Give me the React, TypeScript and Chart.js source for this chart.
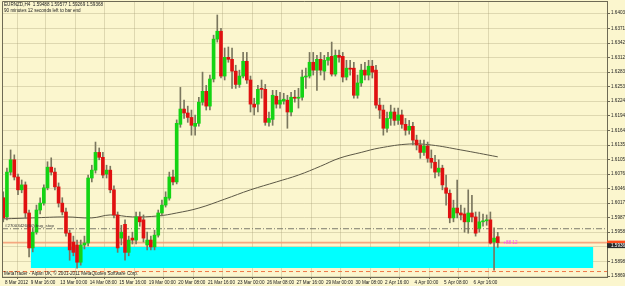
import React, { useEffect, useRef } from 'react';
import { Chart, registerables } from 'chart.js';

Chart.register(...registerables);

// ---- Data (EURNZD, H4) ----
const OPEN = [
  1.6028, 1.5989, 1.6080, 1.6105, 1.6070, 1.6044, 1.6054, 1.5997, 1.5926, 1.5958,
  1.6003, 1.6017, 1.6048, 1.6090, 1.6080, 1.6050, 1.6017, 1.5999, 1.5956, 1.5938,
  1.5932, 1.5897, 1.5932, 1.5936, 1.6068, 1.6084, 1.6120, 1.6110, 1.6076, 1.6084,
  1.6044, 1.5993, 1.5946, 1.5974, 1.5917, 1.5946, 1.5942, 1.5989, 1.5983, 1.5932,
  1.5942, 1.5928, 1.5952, 1.5997, 1.6013, 1.6027, 1.6070, 1.6060, 1.6177, 1.6208,
  1.6200, 1.6191, 1.6173, 1.6179, 1.6222, 1.6244, 1.6214, 1.6269, 1.6350, 1.6366,
  1.6275, 1.6313, 1.6309, 1.6285, 1.6258, 1.6275, 1.6305, 1.6267, 1.6218, 1.6218,
  1.6250, 1.6248, 1.6181, 1.6187, 1.6234, 1.6218, 1.6224, 1.6226, 1.6202, 1.6232,
  1.6230, 1.6232, 1.6273, 1.6275, 1.6303, 1.6287, 1.6309, 1.6285, 1.6307, 1.6315,
  1.6279, 1.6317, 1.6315, 1.6273, 1.6291, 1.6291, 1.6236, 1.6261, 1.6287, 1.6277,
  1.6295, 1.6287, 1.6216, 1.6206, 1.6169, 1.6189, 1.6202, 1.6185, 1.6196, 1.6177,
  1.6165, 1.6173, 1.6145, 1.6135, 1.6120, 1.6133, 1.6108, 1.6100, 1.6080, 1.6088,
  1.6048, 1.6037, 1.5987, 1.6007, 1.5997, 1.5995, 1.5979, 1.5997, 1.5989, 1.5966,
  1.5979, 1.5981, 1.5983, 1.5938, 1.59488,
];
const HIGH = [
  1.6040, 1.6088, 1.6125, 1.6115, 1.6076, 1.6064, 1.6060, 1.6003, 1.5967, 1.6013,
  1.6028, 1.6054, 1.6101, 1.6109, 1.6088, 1.6058, 1.6028, 1.6007, 1.5962, 1.5950,
  1.5942, 1.5942, 1.5950, 1.6074, 1.6094, 1.6141, 1.6129, 1.6120, 1.6094, 1.6092,
  1.6052, 1.5999, 1.5972, 1.5983, 1.5950, 1.5958, 1.5999, 1.5999, 1.5993, 1.5958,
  1.5950, 1.5962, 1.6003, 1.6023, 1.6040, 1.6080, 1.6084, 1.6186, 1.6252, 1.6226,
  1.6214, 1.6206, 1.6196, 1.6232, 1.6283, 1.6256, 1.6277, 1.6358, 1.6399, 1.6372,
  1.6332, 1.6334, 1.6332, 1.6297, 1.6287, 1.6323, 1.6323, 1.6275, 1.6230, 1.6256,
  1.6267, 1.6258, 1.6202, 1.6246, 1.6246, 1.6242, 1.6240, 1.6236, 1.6242, 1.6246,
  1.6250, 1.6287, 1.6291, 1.6323, 1.6323, 1.6317, 1.6323, 1.6317, 1.6323, 1.6344,
  1.6328, 1.6328, 1.6323, 1.6307, 1.6307, 1.6303, 1.6277, 1.6299, 1.6303, 1.6307,
  1.6307, 1.6297, 1.6230, 1.6216, 1.6202, 1.6216, 1.6210, 1.6210, 1.6206, 1.6189,
  1.6185, 1.6181, 1.6155, 1.6145, 1.6145, 1.6141, 1.6125, 1.6114, 1.6105, 1.6094,
  1.6074, 1.6044, 1.6023, 1.6064, 1.6013, 1.6007, 1.6044, 1.6033, 1.5999, 1.5999,
  1.5995, 1.5993, 1.5999, 1.5967, 1.59577,
];
const LOW = [
  1.5979, 1.5983, 1.6074, 1.6064, 1.6034, 1.6038, 1.5987, 1.5908, 1.5918, 1.5954,
  1.5995, 1.6013, 1.6044, 1.6074, 1.6044, 1.6009, 1.5993, 1.5950, 1.5901, 1.5910,
  1.5885, 1.5891, 1.5924, 1.5930, 1.6060, 1.6078, 1.6105, 1.6068, 1.6068, 1.6038,
  1.5987, 1.5917, 1.5932, 1.5901, 1.5910, 1.5934, 1.5934, 1.5970, 1.5938, 1.5922,
  1.5922, 1.5922, 1.5948, 1.5991, 1.6009, 1.6023, 1.6054, 1.6056, 1.6171, 1.6189,
  1.6181, 1.6155, 1.6155, 1.6173, 1.6216, 1.6206, 1.6206, 1.6263, 1.6344, 1.6271,
  1.6267, 1.6303, 1.6250, 1.6250, 1.6252, 1.6271, 1.6260, 1.6202, 1.6196, 1.6202,
  1.6230, 1.6175, 1.6173, 1.6175, 1.6210, 1.6210, 1.6218, 1.6169, 1.6194, 1.6222,
  1.6210, 1.6226, 1.6250, 1.6271, 1.6277, 1.6246, 1.6277, 1.6267, 1.6297, 1.6275,
  1.6275, 1.6303, 1.6263, 1.6267, 1.6277, 1.6230, 1.6230, 1.6254, 1.6267, 1.6267,
  1.6271, 1.6210, 1.6189, 1.6155, 1.6161, 1.6175, 1.6175, 1.6177, 1.6169, 1.6155,
  1.6157, 1.6135, 1.6125, 1.6108, 1.6114, 1.6100, 1.6088, 1.6068, 1.6072, 1.6044,
  1.6013, 1.5977, 1.5979, 1.5987, 1.5983, 1.5958, 1.5956, 1.5979, 1.5950, 1.5958,
  1.5970, 1.5972, 1.5934, 1.5881, 1.59269,
];
const CLOSE = [
  1.5987, 1.6080, 1.6105, 1.6070, 1.6044, 1.6054, 1.5997, 1.5926, 1.5958, 1.6003,
  1.6017, 1.6048, 1.6090, 1.6080, 1.6050, 1.6017, 1.5999, 1.5956, 1.5922, 1.5917,
  1.5897, 1.5932, 1.5936, 1.6068, 1.6084, 1.6120, 1.6110, 1.6074, 1.6084, 1.6044,
  1.5993, 1.5926, 1.5958, 1.5917, 1.5942, 1.5942, 1.5989, 1.5979, 1.5946, 1.5942,
  1.5928, 1.5952, 1.5997, 1.6013, 1.6029, 1.6070, 1.6060, 1.6179, 1.6208, 1.6200,
  1.6191, 1.6175, 1.6179, 1.6222, 1.6244, 1.6214, 1.6269, 1.6350, 1.6366, 1.6275,
  1.6313, 1.6309, 1.6285, 1.6258, 1.6275, 1.6305, 1.6267, 1.6218, 1.6212, 1.6248,
  1.6248, 1.6181, 1.6189, 1.6236, 1.6218, 1.6226, 1.6228, 1.6202, 1.6232, 1.6230,
  1.6232, 1.6273, 1.6275, 1.6303, 1.6287, 1.6309, 1.6287, 1.6307, 1.6313, 1.6279,
  1.6317, 1.6313, 1.6273, 1.6291, 1.6289, 1.6236, 1.6261, 1.6287, 1.6277, 1.6295,
  1.6283, 1.6216, 1.6206, 1.6169, 1.6189, 1.6202, 1.6185, 1.6196, 1.6177, 1.6165,
  1.6173, 1.6145, 1.6135, 1.6120, 1.6133, 1.6108, 1.6100, 1.6080, 1.6088, 1.6054,
  1.6037, 1.5987, 1.6007, 1.5997, 1.5993, 1.5979, 1.5997, 1.5989, 1.5956, 1.5979,
  1.5981, 1.5983, 1.5936, 1.5946, 1.59368,
];

// Moving average, read at selected bars
const MA_BARS = [0, 8, 17, 24, 29, 35, 42, 47, 53, 60, 67, 74, 80, 86, 91, 97, 102, 110, 116, 124, 134];
const MA_VALUES = [
  1.5985, 1.5987, 1.5989, 1.5987, 1.5993, 1.5989, 1.5991, 1.5997, 1.6007, 1.6025,
  1.6044, 1.6060, 1.6074, 1.6092, 1.6108, 1.6120, 1.6129, 1.6137, 1.6135, 1.6125, 1.6111,
];

const Y_TICKS = [
  1.6403, 1.6371, 1.6342, 1.6312, 1.6283, 1.6253, 1.6224, 1.6194, 1.61645, 1.6135,
  1.6105, 1.6076, 1.6046, 1.6017, 1.5987, 1.5958, 1.5928, 1.5898, 1.5869,
];
const X_TICK_BARS = [0, 7, 15, 23, 31, 39, 47, 55, 63, 71, 79, 87, 95, 103, 111, 119, 127];
const X_TICK_LABELS = [
  '8 Mar 2012', '9 Mar 16:00', '13 Mar 00:00', '14 Mar 08:00', '15 Mar 16:00', '19 Mar 00:00',
  '20 Mar 08:00', '21 Mar 16:00', '23 Mar 00:00', '26 Mar 08:00', '27 Mar 16:00', '29 Mar 00:00',
  '30 Mar 08:00', '2 Apr 16:00', '4 Apr 00:00', '5 Apr 08:00', '6 Apr 16:00',
];

const TITLE_LINE = 'EURNZD,H4  1.59488 1.59577 1.59269 1.59368';
const TIMER_LINE = '90 minutes 12 seconds left to bar end';
const COPYRIGHT = 'MetaTrader - Alpari UK, \u00a9 2001-2011 MetaQuotes Software Corp.';
const ORDER_LABEL = '#27003426(60) buy_stop';
const PROFIT_LABEL = '+88 12';

const BID = 1.59368;
const ORDER_PRICE = 1.5965;
const STOP_PRICE = 1.58781;
const ZONE_TOP = 1.59279;
const ZONE_BOTTOM = 1.58852;
const ZONE_FROM = 7.44;
const ZONE_TO = 159.9;

const X_MIN = -0.336;
const X_MAX = 163.6;
const Y_MIN = 1.5867;
const Y_MAX = 1.64274;

const BG = 'rgb(251,246,206)';
const GREEN = '#14d414';
const RED = '#e01010';
const WICK = '#7a765e';
const FRAME = '#6e6a55';
const FONT = '"Liberation Sans", Arial, sans-serif';

export default function App() {
  const ref = useRef<HTMLCanvasElement>(null);

  useEffect(() => {
    document.body.style.margin = '0';
    const canvas = ref.current;
    if (!canvas) return;

    const bodies = OPEN.map((o, i) => ({ x: i, y: [o, CLOSE[i]] }));
    const wicks = OPEN.map((_, i) => ({ x: i, y: [LOW[i], HIGH[i]] }));
    const bodyColors = OPEN.map((o, i) => (CLOSE[i] >= o ? GREEN : RED));
    const ma = MA_BARS.map((b, i) => ({ x: b, y: MA_VALUES[i] }));

    const bgPlugin = {
      id: 'bg',
      beforeDraw(chart: any) {
        const c = chart.ctx;
        c.save();
        c.fillStyle = BG;
        c.fillRect(0, 0, chart.width, chart.height);
        c.restore();
      },
    };

    const overlay = {
      id: 'overlay',
      afterDraw(chart: any) {
        const c = chart.ctx;
        const a = chart.chartArea;
        const xs = chart.scales.x;
        const ys = chart.scales.y;
        c.save();
        // frame top/left
        c.strokeStyle = FRAME;
        c.lineWidth = 1;
        c.beginPath();
        c.moveTo(a.left + 0.5, a.bottom);
        c.lineTo(a.left + 0.5, a.top + 0.5);
        c.lineTo(a.right, a.top + 0.5);
        c.stroke();

        c.fillStyle = '#222';
        c.textBaseline = 'middle';
        c.textAlign = 'left';
        c.font = `4.6px ${FONT}`;
        c.fillText(TITLE_LINE, 4, 5);
        c.fillText(TIMER_LINE, 4, 11);
        c.fillText(COPYRIGHT, 4, 273.5);

        // order label
        const yo = ys.getPixelForValue(ORDER_PRICE);
        c.fillStyle = '#333';
        c.font = `4.4px ${FONT}`;
        c.fillText(ORDER_LABEL, 5, yo - 3);

        // profit label
        const yb = ys.getPixelForValue(BID);
        c.fillStyle = '#ff40ff';
        c.font = `4.6px ${FONT}`;
        c.fillText(PROFIT_LABEL, xs.getPixelForValue(135.5), yb + 0.5);

        // price boxes on axis
        c.fillStyle = '#ff4a1a';
        c.fillRect(a.right, yb - 2, 18, 2.5);
        c.fillStyle = '#2a2a2a';
        c.fillRect(a.right, yb + 0.5, 18, 5);
        c.fillStyle = '#ffffff';
        c.font = `4.6px ${FONT}`;
        c.fillText(BID.toFixed(5), a.right + 4, yb + 3);
        c.restore();
      },
    };

    const flat = (price: number, x0: number, x1: number) => [
      { x: x0, y: price },
      { x: x1, y: price },
    ];

    const chart = new Chart(canvas, {
      type: 'bar',
      data: {
        datasets: [
          {
            type: 'line',
            label: 'zone',
            data: flat(ZONE_TOP, ZONE_FROM, ZONE_TO),
            borderWidth: 0,
            pointRadius: 0,
            backgroundColor: '#00ffff',
            fill: { value: ZONE_BOTTOM },
            order: 20,
          } as any,
          {
            type: 'line',
            label: 'order',
            data: flat(ORDER_PRICE, X_MIN, X_MAX),
            borderColor: '#7c7a6c',
            borderWidth: 1,
            borderDash: [6, 2, 1, 2],
            pointRadius: 0,
            order: 15,
          } as any,
          {
            type: 'line',
            label: 'stop',
            data: flat(STOP_PRICE, X_MIN, X_MAX),
            borderColor: '#f07848',
            borderWidth: 1,
            borderDash: [4, 3],
            pointRadius: 0,
            order: 15,
          } as any,
          {
            type: 'line',
            label: 'bid',
            data: flat(BID, X_MIN, X_MAX),
            borderColor: 'rgba(244,160,120,0.9)',
            borderWidth: 1.6,
            pointRadius: 0,
            order: 14,
          } as any,
          {
            type: 'line',
            label: 'ma',
            data: ma,
            borderColor: '#5c5846',
            borderWidth: 1,
            pointRadius: 0,
            tension: 0.4,
            order: 12,
          } as any,
          {
            label: 'wicks',
            data: wicks as any,
            backgroundColor: WICK,
            barThickness: 1,
            grouped: false,
            order: 2,
          } as any,
          {
            label: 'bodies',
            data: bodies as any,
            backgroundColor: bodyColors,
            barThickness: 3,
            minBarLength: 1,
            grouped: false,
            order: 1,
          } as any,
        ],
      },
      options: {
        animation: false,
        responsive: false,
        maintainAspectRatio: false,
        layout: { padding: { left: 2, top: 1, right: 0, bottom: 0 } },
        plugins: { legend: { display: false }, tooltip: { enabled: false } },
        scales: {
          x: {
            type: 'linear',
            min: X_MIN,
            max: X_MAX,
            offset: false,
            border: { display: true, color: FRAME, width: 1 },
            grid: {
              color: 'rgba(170,160,120,0.35)',
              tickColor: FRAME,
              tickLength: 2,
              drawOnChartArea: true,
              tickBorderDash: [],
            } as any,
            ticks: {
              autoSkip: false,
              maxRotation: 0,
              minRotation: 0,
              align: 'start',
              padding: 1,
              color: '#222',
              font: { family: FONT, size: 4.6 },
              callback: (_v: any, i: number) => X_TICK_LABELS[i],
            } as any,
            afterBuildTicks: (s: any) => {
              s.ticks = X_TICK_BARS.map((b) => ({ value: b + 0.45 }));
            },
            afterFit: (s: any) => {
              s.height = 9;
              s.paddingLeft = 0;
              s.paddingRight = 0;
              s.paddingTop = 0;
              s.paddingBottom = 0;
            },
          } as any,
          y: {
            type: 'linear',
            position: 'right',
            min: Y_MIN,
            max: Y_MAX,
            border: { display: true, color: FRAME, width: 1 },
            grid: {
              color: 'rgba(170,160,120,0.35)',
              tickColor: FRAME,
              tickLength: 3,
            } as any,
            ticks: {
              autoSkip: false,
              padding: 1,
              color: '#222',
              font: { family: FONT, size: 4.6 },
              callback: (v: any) => Number(v).toFixed(5),
            },
            afterBuildTicks: (s: any) => {
              s.ticks = Y_TICKS.map((v) => ({ value: v }));
            },
            afterFit: (s: any) => {
              s.width = 18;
              s.paddingLeft = 0;
              s.paddingRight = 0;
              s.paddingTop = 0;
              s.paddingBottom = 0;
            },
          } as any,
        },
      },
      plugins: [bgPlugin, overlay],
    });

    return () => chart.destroy();
  }, []);

  return (
    <div style={{ width: 625, height: 286 }}>
      <canvas ref={ref} width={625} height={286} style={{ display: 'block' }} />
    </div>
  );
}
